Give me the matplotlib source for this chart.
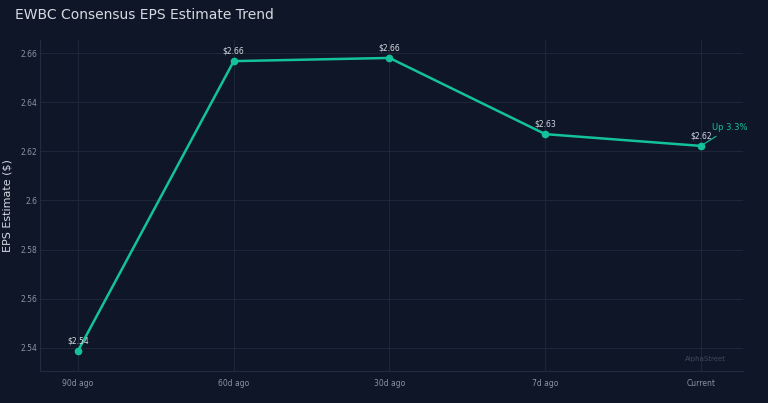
import matplotlib
matplotlib.use("Agg")
from matplotlib import pyplot as plt

periods = ["90d ago", "60d ago", "30d ago", "7d ago", "Current"]
eps = [2.5388, 2.6567, 2.6580, 2.6270, 2.6222]
yticks = [2.54, 2.56, 2.58, 2.60, 2.62, 2.64, 2.66]
ytick_labels = ["2.54", "2.56", "2.58", "2.6", "2.62", "2.64", "2.66"]

bg = "#0e1628"
line_col = "#14c29a"
grid_col = "#1c2638"
text_col = "#d5dae2"
tick_col = "#8a93a3"

fig = plt.figure(figsize=(7.68, 4.03), dpi=100, facecolor=bg)
ax = fig.add_axes([40 / 768, 1 - 371 / 403, 703 / 768, 331 / 403])
ax.set_facecolor(bg)

x = list(range(len(periods)))
ax.plot(x, eps, color=line_col, lw=1.8, marker="o", ms=4.5, zorder=3)

for xi, v in zip(x, eps):
    ax.annotate(f"${v:.2f}", (xi, v), xytext=(0, 4), textcoords="offset points",
                ha="center", va="bottom", fontsize=5.5, color=text_col)

pct = (eps[-1] / eps[0] - 1) * 100
ax.annotate(f"Up {pct:.1f}%", (x[-1], eps[-1]), xytext=(8, 10), textcoords="offset points",
            ha="left", va="bottom", fontsize=6, color=line_col,
            arrowprops=dict(arrowstyle="-", color=line_col, lw=0.8))

ax.set_xlim(-0.244, 4.27)
ax.set_ylim(2.5306, 2.6653)
ax.set_xticks(x)
ax.set_xticklabels(periods)
ax.set_yticks(yticks)
ax.set_yticklabels(ytick_labels)
ax.tick_params(length=0, labelsize=5.5, colors=tick_col)
ax.tick_params(axis="y", pad=2)
ax.tick_params(axis="x", pad=6)
ax.grid(True, color=grid_col, lw=0.8)
for s in ["top", "right"]:
    ax.spines[s].set_visible(False)
for s in ["left", "bottom"]:
    ax.spines[s].set_color("#222c3e")
    ax.spines[s].set_linewidth(0.8)

ax.set_ylabel("EPS Estimate ($)", fontsize=8, color=text_col, labelpad=6)
fig.text(15 / 768, 1 - 15 / 403, "EWBC Consensus EPS Estimate Trend", fontsize=10,
         color=text_col, ha="left", va="center")
ax.text(0.976, 0.035, "AlphaStreet", transform=ax.transAxes, ha="right", va="center",
        fontsize=5, color="#404a5c")

fig.savefig("out.png", dpi=100, facecolor=bg)
